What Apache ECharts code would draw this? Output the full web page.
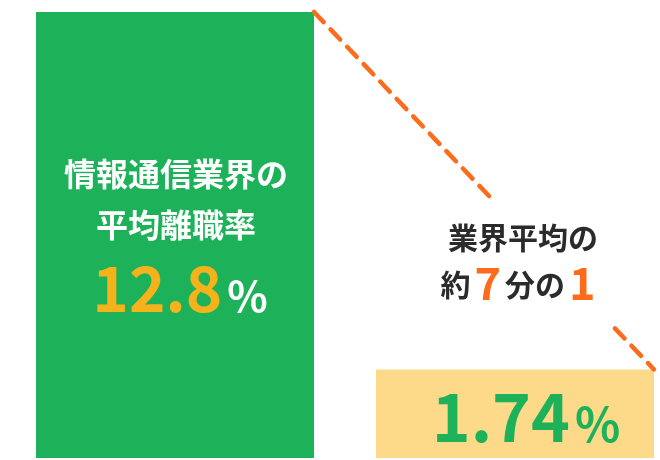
<!DOCTYPE html>
<html>
<head>
<meta charset="utf-8">
<script src="https://cdn.jsdelivr.net/npm/echarts@6/dist/echarts.min.js"></script>
<style>
html,body{margin:0;padding:0;background:#ffffff;}
#c{width:660px;height:460px;}
</style>
</head>
<body>
<div id="c"></div>
<script>
// ---- data ----
const categories = ['情報通信業界', '業界平均'];
const values = [12.8, 1.74];
const valueTexts = ['12.8', '1.74'];
const unitText = '%';
const titleLines = ['情報通信業界の', '平均離職率'];
const ratioLine1 = '業界平均の';
const ratioParts = ['約', '7', '分の', '1'];

// ---- style ----
const GREEN = '#1db25a';
const YELLOW = '#fdd98a';
const AMBER = '#f6b21b';
const ORANGE = '#fc6c1c';
const DARK = '#2b2b2b';
const FONT = '"Noto Sans CJK JP", "Noto Sans", sans-serif';
const AXIS_MIN = -1;
const AXIS_MAX = 12.8;
const X_MIN = -0.5147;
const X_MAX = 1.4265;
const BAR_W = 278;

function f(size) { return 'bold ' + size + 'px ' + FONT; }

function plainText(x, y, text, size, color) {
  return {
    type: 'text',
    style: { x: x, y: y, text: text, font: f(size), fill: color, align: 'center', verticalAlign: 'middle' }
  };
}

function valueText(x, y, num, numSize, unitSize, numColor, unitColor) {
  return {
    type: 'text',
    style: {
      x: x, y: y,
      text: '{n|' + num + '}{u|' + unitText + '}',
      align: 'center', verticalAlign: 'middle',
      rich: {
        n: { font: f(numSize), fill: numColor, lineHeight: numSize, verticalAlign: 'bottom' },
        u: { font: f(unitSize), fill: unitColor, lineHeight: unitSize, verticalAlign: 'bottom', padding: [0, 0, 2, 5] }
      }
    }
  };
}

function renderBar(params, api) {
  const i = api.value(0);
  const v = api.value(1);
  const top = api.coord([i, v]);
  const bottom = api.coord([i, AXIS_MIN]);
  const cx = top[0];
  const children = [{
    type: 'rect',
    shape: { x: cx - BAR_W / 2, y: top[1], width: BAR_W, height: bottom[1] - top[1] },
    style: { fill: i === 0 ? GREEN : YELLOW }
  }];
  if (i === 0) {
    children.push(plainText(cx + 1, top[1] + 162, titleLines[0], 32, '#ffffff'));
    children.push(plainText(cx + 1, top[1] + 213, titleLines[1], 32, '#ffffff'));
    children.push(valueText(cx + 5, top[1] + 276, valueTexts[0], 62, 42, AMBER, '#ffffff'));
  } else {
    children.push(valueText(cx + 11, top[1] + 47, valueTexts[1], 66, 47, GREEN, GREEN));
  }
  return { type: 'group', children: children };
}

function renderConnector(params, api) {
  const a = api.coord([api.value(0), api.value(1)]);
  const b = api.coord([api.value(2), api.value(3)]);
  const x0 = a[0] + BAR_W / 2, y0 = a[1];
  const x1 = b[0] + BAR_W / 2, y1 = b[1];
  const pt = t => [x0 + (x1 - x0) * t, y0 + (y1 - y0) * t];
  const seg = (t0, t1) => {
    const p = pt(t0), q = pt(t1);
    return {
      type: 'line',
      shape: { x1: p[0], y1: p[1], x2: q[0], y2: q[1] },
      style: { stroke: ORANGE, lineWidth: 4.5, lineDash: [14, 10], lineCap: 'round' }
    };
  };
  const tx = b[0] + 6;
  const children = [
    seg(0, 0.515),
    seg(0.885, 1),
    plainText(tx + 2, 238, ratioLine1, 30, DARK),
    {
      type: 'text',
      style: {
        x: tx - 1, y: 283,
        text: '{a|' + ratioParts[0] + '}{b|' + ratioParts[1] + '}{a|' + ratioParts[2] + '}{b|' + ratioParts[3] + '}',
        align: 'center', verticalAlign: 'middle',
        rich: {
          a: { font: f(30), fill: DARK, lineHeight: 30, verticalAlign: 'middle', padding: [4, 0, 0, 0] },
          b: { font: f(45), fill: ORANGE, lineHeight: 45, verticalAlign: 'middle', padding: [0, 4, 0, 4] }
        }
      }
    }
  ];
  return { type: 'group', children: children };
}

const chart = echarts.init(document.getElementById('c'), null, { renderer: 'canvas' });
chart.setOption({
  animation: false,
  backgroundColor: '#ffffff',
  grid: { left: 0, right: 0, top: 12, bottom: 2 },
  xAxis: { type: 'value', min: X_MIN, max: X_MAX, show: false, splitLine: { show: false } },
  yAxis: { type: 'value', min: AXIS_MIN, max: AXIS_MAX, show: false, splitLine: { show: false } },
  series: [
    {
      type: 'custom',
      name: 'bars',
      renderItem: renderBar,
      encode: { x: 0, y: 1 },
      data: categories.map((c, i) => [i, values[i]]),
      z: 1
    },
    {
      type: 'custom',
      name: 'connector',
      renderItem: renderConnector,
      encode: { x: [0, 2], y: [1, 3] },
      data: [[0, values[0], 1, values[1]]],
      z: 2
    }
  ]
});
</script>
</body>
</html>
